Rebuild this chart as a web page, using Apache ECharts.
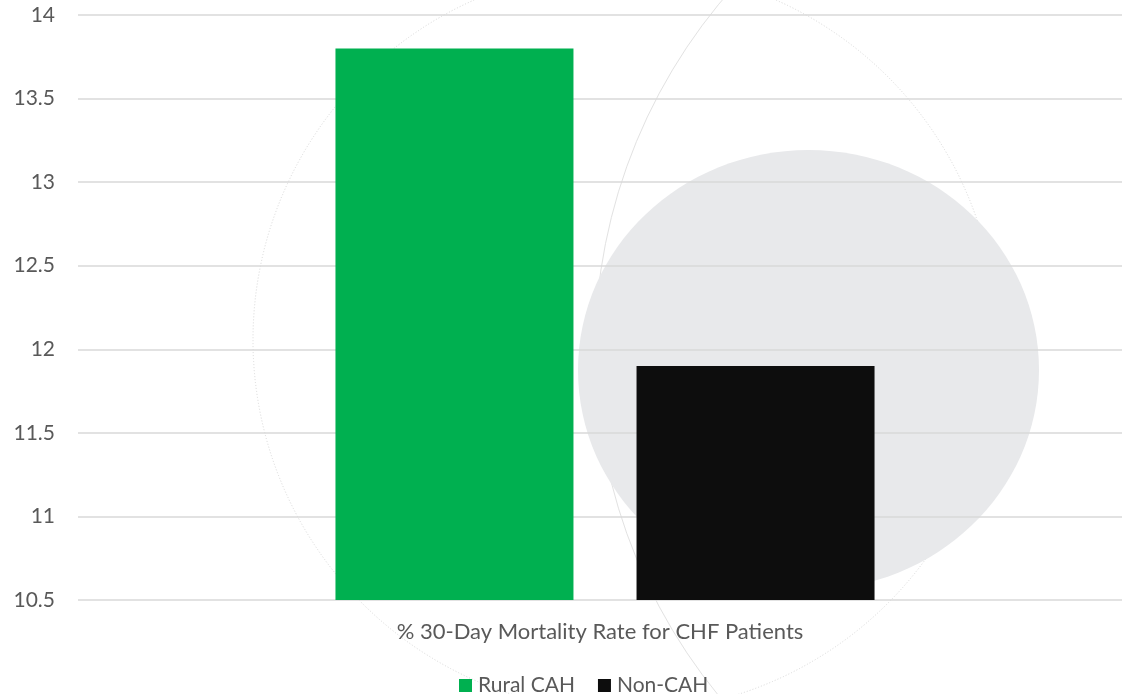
<!DOCTYPE html>
<html>
<head>
<meta charset="utf-8">
<script src="https://cdn.jsdelivr.net/npm/echarts@6/dist/echarts.min.js"></script>
<style>
html,body{margin:0;padding:0;background:#fff;}
#chart{width:1122px;height:694px;}
</style>
</head>
<body>
<div id="chart"></div>
<script>
const categories = ['% 30-Day Mortality Rate for CHF Patients'];
const seriesNames = ['Rural CAH', 'Non-CAH'];
const ruralCAH = [13.8];
const nonCAH = [11.9];
const yTicks = [10.5, 11, 11.5, 12, 12.5, 13, 13.5, 14];

const chart = echarts.init(document.getElementById('chart'));
const font = 'Lato, "Open Sans", sans-serif';
const yMin = yTicks[0], yMax = yTicks[yTicks.length - 1];
chart.setOption({
  animation: false,
  backgroundColor: '#fff',
  graphic: [
    { type: 'circle', z: -20, silent: true,
      shape: { cx: 1140, cy: 350, r: 545 },
      style: { fill: 'none', stroke: '#E2E2E2', lineWidth: 1 } },
    { type: 'circle', z: -20, silent: true,
      shape: { cx: 625, cy: 340, r: 372 },
      style: { fill: 'none', stroke: '#D8D8D8', lineWidth: 1, lineDash: [1, 2] } },
    { type: 'ellipse', z: -10, silent: true,
      shape: { cx: 808.5, cy: 370, rx: 230.5, ry: 220 },
      style: { fill: '#E8E9EB' } }
  ],
  grid: [
    { left: 78, right: 0, top: 15, bottom: 94, containLabel: false },
    { left: 88, right: 0, top: 15, bottom: 94, containLabel: false }
  ],
  legend: {
    bottom: -7, left: 454,
    itemWidth: 13, itemHeight: 13, itemGap: 23,
    icon: 'rect',
    textStyle: { color: '#595959', fontSize: 21, fontFamily: font, padding: [0, 0, 0, 1] },
    data: seriesNames
  },
  xAxis: [
    { type: 'category', gridIndex: 0, data: categories,
      axisLine: { show: false }, axisTick: { show: false },
      axisLabel: { color: '#595959', fontSize: 22, fontFamily: font, margin: 21 } },
    { type: 'category', gridIndex: 1, data: categories, show: false }
  ],
  yAxis: [
    { type: 'value', gridIndex: 0, min: yMin, max: yMax, interval: 0.5,
      axisLine: { show: false }, axisTick: { show: false },
      axisLabel: { color: '#595959', fontSize: 21, fontFamily: font, margin: 23 },
      splitLine: { lineStyle: { color: '#D9D9D9', width: 1.5 } } },
    { type: 'value', gridIndex: 1, min: yMin, max: yMax, interval: 0.5, show: false,
      splitLine: { show: false } }
  ],
  series: [
    { name: seriesNames[0], type: 'bar', xAxisIndex: 1, yAxisIndex: 1, data: ruralCAH,
      barWidth: 238, barGap: '26.5%', itemStyle: { color: '#00B050' } },
    { name: seriesNames[1], type: 'bar', xAxisIndex: 1, yAxisIndex: 1, data: nonCAH,
      barWidth: 238, itemStyle: { color: '#0D0D0D' } }
  ]
});
</script>
</body>
</html>
